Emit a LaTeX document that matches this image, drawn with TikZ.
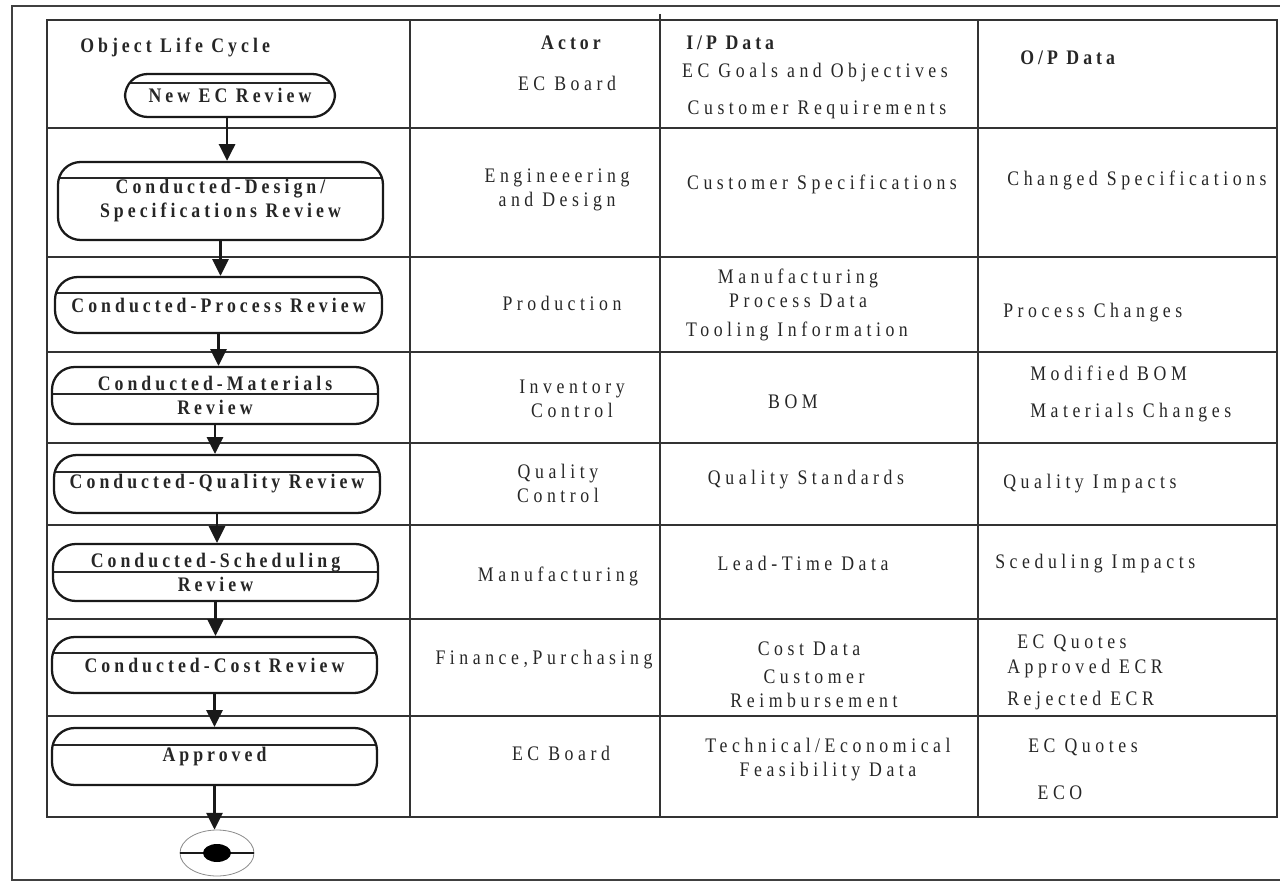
\documentclass[tikz,border=0pt]{standalone}
\usepackage{fontspec}
\setmainfont{Liberation Serif}[LetterSpace=22, FakeStretch=0.86, BoldFeatures={LetterSpace=19.5}]
\usetikzlibrary{arrows.meta,shapes.geometric}
\begin{document}
\begin{tikzpicture}[x=0.75pt,y=-0.75pt,
  every node/.style={font=\fontsize{15.5pt}{18pt}\selectfont, text=black!85, inner sep=0pt, align=center},
  rule/.style={line width=1.4pt, draw=black!80},
  frame/.style={line width=1pt, draw=black!75},
  state/.style={draw=black!90, line width=1.7pt, rounded corners=17pt,
    font=\fontsize{15.5pt}{18pt}\selectfont\bfseries},
  divider/.style={path picture={\draw[line width=1.1pt, black!85]
    ([yshift=-#1*0.75pt]path picture bounding box.north west) --
    ([yshift=-#1*0.75pt]path picture bounding box.north east);}},
  dims/.style 2 args={minimum width=#1*0.75pt, minimum height=#2*0.75pt},
  flow/.style={line width=1.9pt, draw=black!90,
    -{Triangle[width=12pt,length=12.5pt]}},
  head/.style={font=\fontsize{15.5pt}{18pt}\selectfont\bfseries}
]
\useasboundingbox (0,0) rectangle (1280,887);

% outer frame
\draw[frame] (12,6) rectangle (1292,880);

% table grid
\draw[rule] (47,20) rectangle (1277,817);
\draw[rule] (410,20) -- (410,817);
\draw[rule] (660,14) -- (660,817);
\draw[rule] (978,20) -- (978,817);
\foreach \yy in {128,257,352,443,525,619,716}
  \draw[rule] (47,\yy) -- (1277,\yy);

% life-cycle column
\node[head, anchor=west] (title) at (80,47) {Object Life Cycle};
\node[state, dims={210}{43}, divider=9] (newec) at (230,95.5) {New EC Review};
\node[state, dims={325}{78}, divider=16] (design) at (220.5,201) {Conducted-Design/\\Specifications Review};
\node[state, dims={327}{56}, divider=16] (process) at (218.5,305) {Conducted-Process Review};
\node[state, dims={326}{57}, divider=27] (materials) at (215,395.5) {Conducted-Materials\\Review};
\node[state, dims={326}{58}, divider=17] (quality) at (217,484) {Conducted-Quality Review};
\node[state, dims={325}{57}, divider=28] (sched) at (215.5,572.5) {Conducted-Scheduling\\Review};
\node[state, dims={325}{56}, divider=16] (cost) at (214.5,665) {Conducted-Cost Review};
\node[state, dims={325}{57}, divider=17] (approved) at (214.5,756.5) {Approved};

% final state
\node[ellipse, draw=black!45, line width=0.6pt, dims={74}{46}] (final) at (217,853) {};
\draw[line width=1.6pt, black!90] (final.west) -- (final.east);
\fill[black] (final.center) ellipse [x radius=14, y radius=9];

% transitions
\draw[flow] ([xshift=-2.2pt]newec.south) -- ([xshift=-2.2pt]newec.south |- design.north);
\draw[flow] (design.south) -- (design.south |- process.north);
\draw[flow] (process.south) -- (process.south |- materials.north);
\draw[flow] (materials.south) -- (materials.south |- quality.north);
\draw[flow] (quality.south) -- (quality.south |- sched.north);
\draw[flow] (sched.south) -- (sched.south |- cost.north);
\draw[flow] (cost.south) -- (cost.south |- approved.north);
\draw[flow] (approved.south) -- (approved.south |- final.north);

% actor column
\node[head] (actorhead) at (571,43) {Actor};
\node (a1) at (567,83) {EC Board};
\node (a2) at (557,190) {Engineeering\\and Design};
\node (a3) at (562,303) {Production};
\node (a4) at (572,399) {Inventory\\Control};
\node (a5) at (558,483) {Quality\\Control};
\node (a6) at (558,576) {Manufacturing};
\node (a7) at (544,660) {Finance,Purchasing};
\node (a8) at (561,753) {EC Board};

% input data column
\node[head, anchor=west] (iphead) at (686,43) {I/P Data};
\node (i1a) at (815,73) {EC Goals and Objectives};
\node (i1b) at (817,110) {Customer Requirements};
\node (i2) at (822,184) {Customer Specifications};
\node (i3a) at (798,288) {Manufacturing\\Process Data};
\node (i3b) at (797,331) {Tooling Information};
\node (i4) at (793,402) {BOM};
\node (i5) at (806,480) {Quality Standards};
\node (i6) at (803,563) {Lead-Time Data};
\node (i7a) at (809,649) {Cost Data};
\node (i7b) at (814,689) {Customer\\Reimbursement};
\node (i8) at (828,760) {Technical/Economical\\Feasibility Data};

% output data column
\node[head, anchor=west] (ophead) at (1020,58) {O/P Data};
\node (o2) at (1137,180) {Changed Specifications};
\node[anchor=west] (o3) at (1003,313) {Process Changes};
\node[anchor=west] (o4a) at (1030,373) {Modified BOM};
\node[anchor=west] (o4b) at (1030,413) {Materials Changes};
\node[anchor=west] (o5) at (1003,484) {Quality Impacts};
\node[anchor=west] (o6) at (995,564) {Sceduling Impacts};
\node[anchor=west] (o7a) at (1017,643) {EC Quotes};
\node[anchor=west] (o7b) at (1007,669) {Approved ECR};
\node[anchor=west] (o7c) at (1007,701) {Rejected ECR};
\node (o8a) at (1083,747) {EC Quotes};
\node (o8b) at (1060,793) {ECO};
\end{tikzpicture}
\end{document}
